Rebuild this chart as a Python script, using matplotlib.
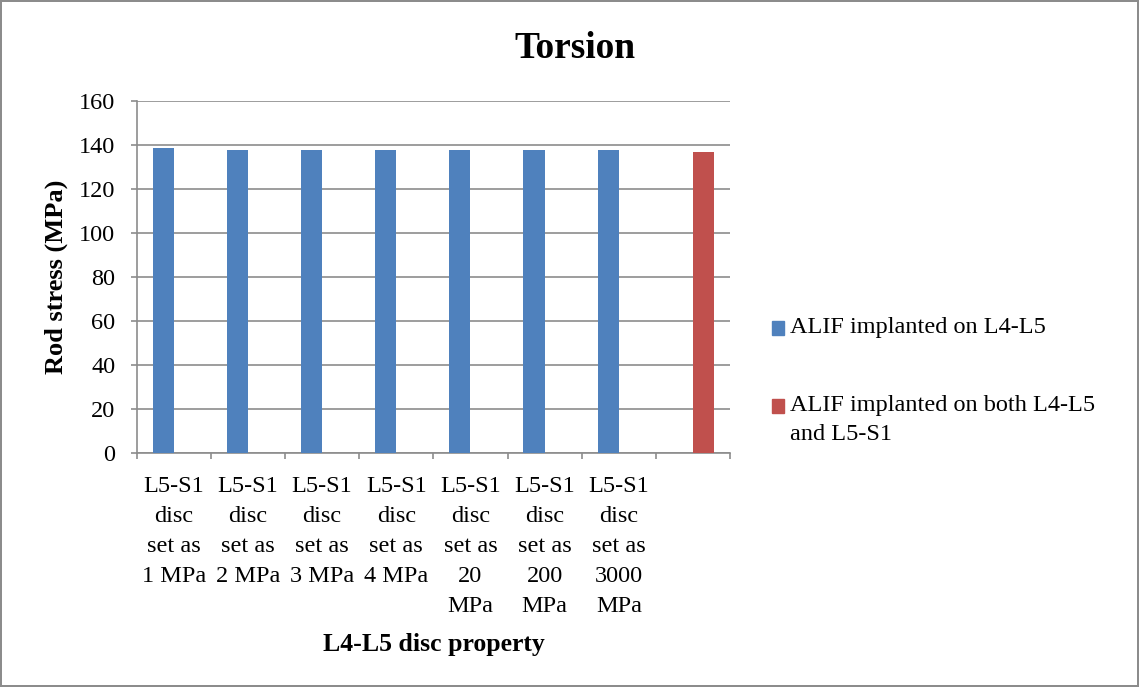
import numpy as np
import matplotlib.pyplot as plt
from matplotlib.patches import Rectangle

# ---- data ----
categories = ["L5-S1\ndisc\nset as\n1 MPa", "L5-S1\ndisc\nset as\n2 MPa",
              "L5-S1\ndisc\nset as\n3 MPa", "L5-S1\ndisc\nset as\n4 MPa",
              "L5-S1\ndisc\nset as\n20\nMPa", "L5-S1\ndisc\nset as\n200\nMPa",
              "L5-S1\ndisc\nset as\n3000\nMPa", ""]
single_level = [138.8, 137.5, 137.5, 137.5, 137.6, 137.7, 137.7]
both_levels = [136.7]
series_names = ["ALIF implanted on L4-L5", "ALIF implanted on both L4-L5\nand L5-S1"]
colors = ["#4F81BD", "#C0504D"]

plt.rcParams['font.family'] = ['Liberation Serif', 'DejaVu Serif']
fs = 17.5
grey = '#8c8c8c'

fig = plt.figure(figsize=(11.39, 6.87), dpi=100)
fig.patch.set_edgecolor(grey)
fig.patch.set_linewidth(1.5)
ax = fig.add_axes([0.120, 0.341, 0.521, 0.512])

n = len(categories)
centers = np.arange(n) + 0.5
w = 1 / 3.5

ax.bar(centers[:len(single_level)] - w / 2, single_level, width=w, color=colors[0], zorder=3)
ax.bar(centers[n - len(both_levels):] + w / 2, both_levels, width=w, color=colors[1], zorder=3)

ax.set_xlim(0, n)
ax.set_ylim(0, 160)
ax.set_yticks(np.arange(0, 161, 20))
ax.yaxis.grid(True, color=grey, linewidth=1.2, zorder=0)

# category boundaries get tick marks, labels sit at the centres
ax.set_xticks(np.arange(0, n + 1))
ax.set_xticklabels([])
ax.set_xticks(centers, minor=True)
ax.set_xticklabels(categories, minor=True, linespacing=1.55, fontsize=fs)
ax.tick_params(axis='x', which='minor', length=0, pad=17)
ax.tick_params(axis='x', which='major', length=4.5, color=grey, width=1.2)
ax.tick_params(axis='y', length=4.5, color=grey, width=1.2, labelsize=fs, pad=11)

for side in ['top', 'right']:
    ax.spines[side].set_visible(False)
for side in ['left', 'bottom']:
    ax.spines[side].set_color(grey)
    ax.spines[side].set_linewidth(1.2)

ax.set_ylabel("Rod stress (MPa)", fontsize=19, fontweight='bold', labelpad=8)
ax.set_xlabel("L4-L5 disc property", fontsize=18.5, fontweight='bold', labelpad=12)
fig.text(0.505, 0.93, "Torsion", ha='center', va='center', fontsize=27, fontweight='bold')

# legend drawn by hand so the wrapped entry keeps its marker on the first line
legend_y = [0.5226, 0.409]
for name, col, yy in zip(series_names, colors, legend_y):
    fig.add_artist(Rectangle((0.678, yy - 0.0095), 0.0105, 0.019,
                             transform=fig.transFigure, color=col))
    if '\n' in name:
        fig.text(0.6936, yy + 0.016, name, ha='left', va='top', fontsize=fs, linespacing=1.5)
    else:
        fig.text(0.6936, yy, name, ha='left', va='center', fontsize=fs)

fig.savefig("out.png", dpi=100)
